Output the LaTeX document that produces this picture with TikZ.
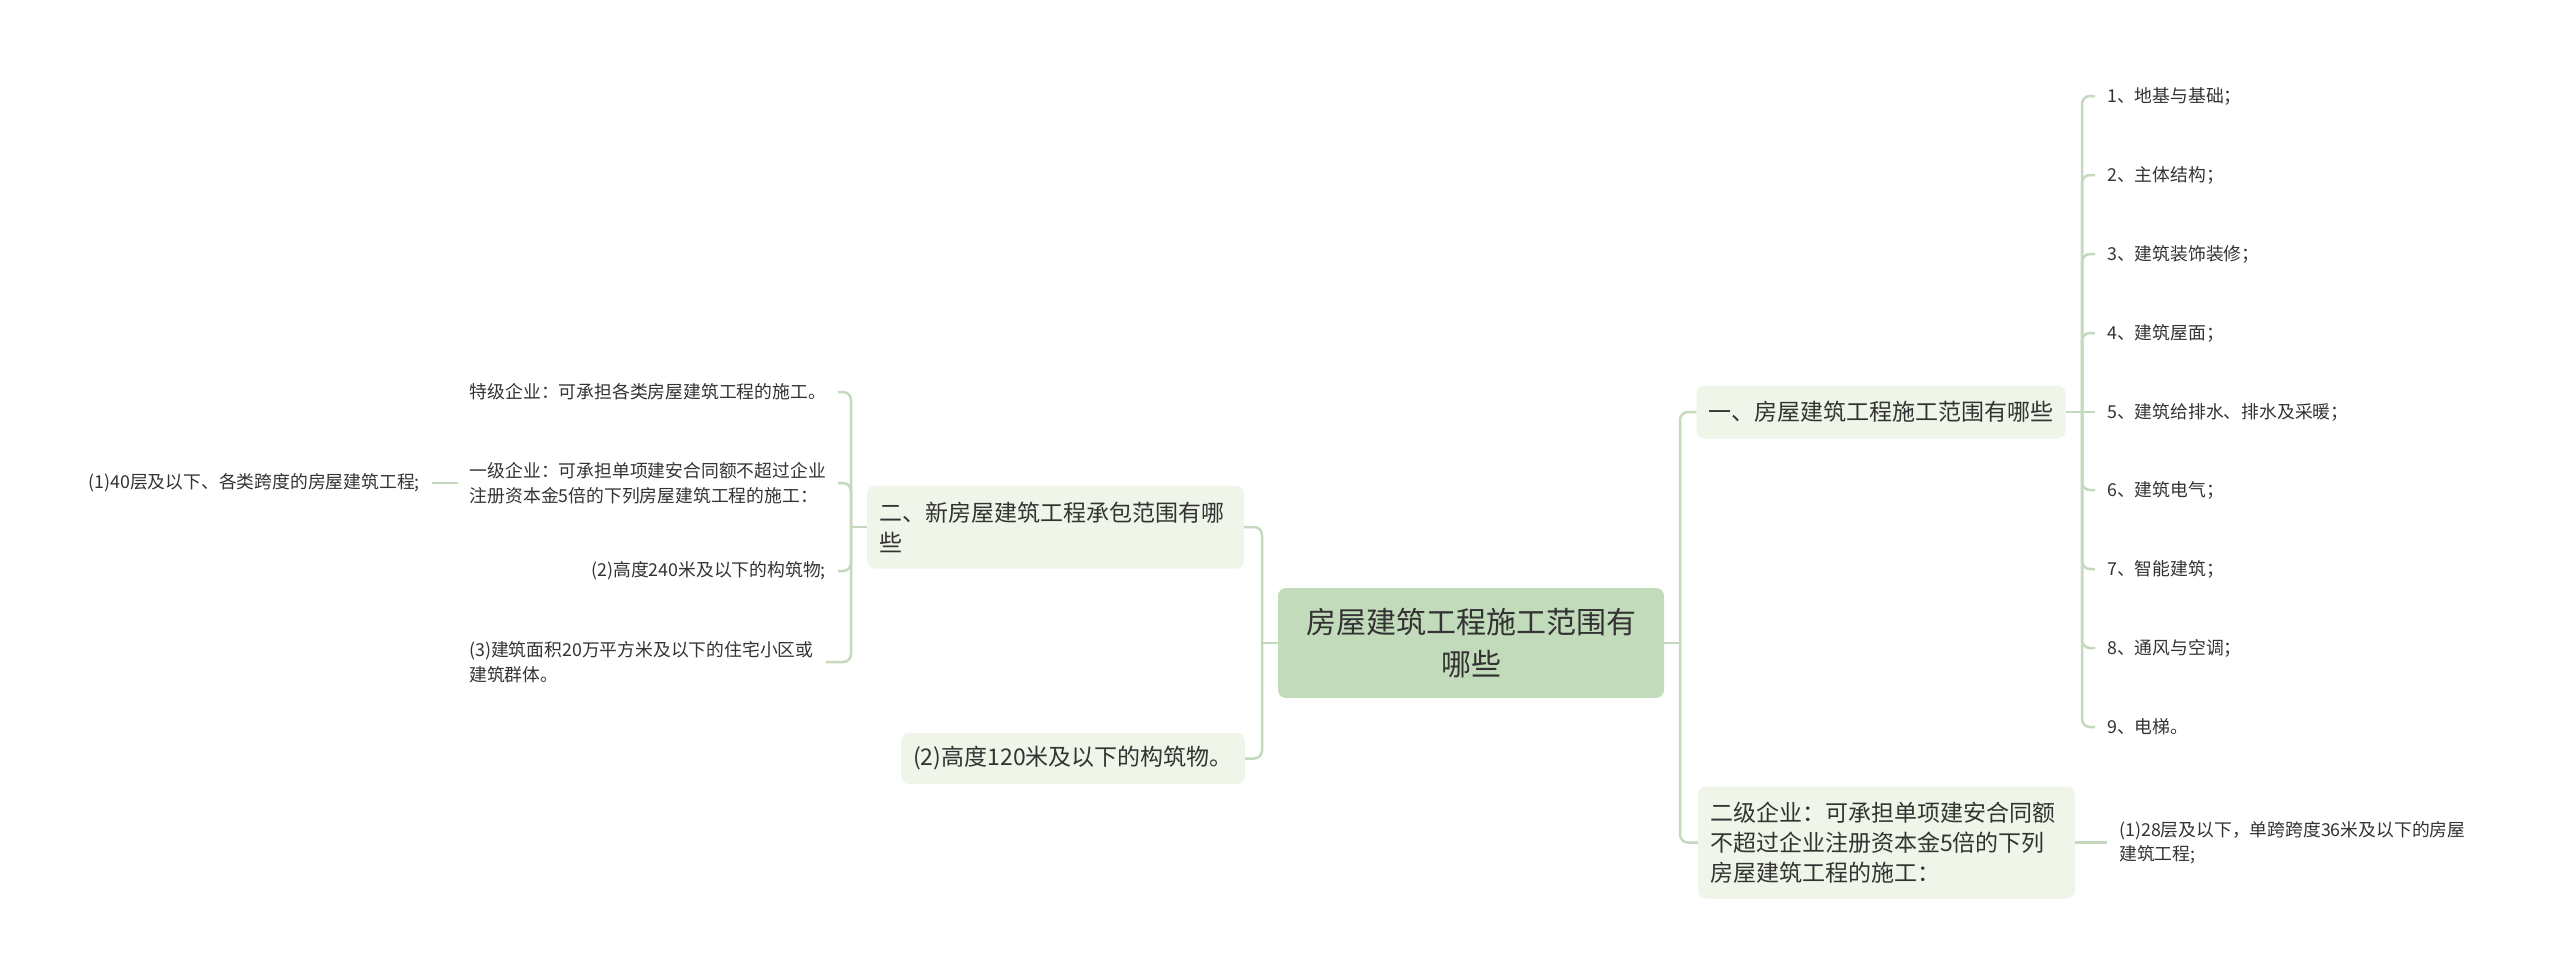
\documentclass[tikz,border=0pt]{standalone}
\usepackage{fontspec}
\setmainfont{Noto Sans CJK SC}
\definecolor{rootfill}{HTML}{C2DBBA}
\definecolor{topicfill}{HTML}{EFF5E8}
\definecolor{linkline}{HTML}{C4D9BD}
\definecolor{inktext}{HTML}{333333}

\begin{document}
\begin{tikzpicture}[x=1pt, y=-1pt,
	rootbox/.style={fill=rootfill, rounded corners=8pt, text=inktext, font=\fontsize{30}{42}\selectfont, align=center, minimum width=386pt, minimum height=110pt, inner sep=0pt},
	topicbox/.style={fill=topicfill, rounded corners=8pt, text=inktext, font=\fontsize{23}{30}\selectfont, inner xsep=12pt, inner ysep=0pt},
	leaftext/.style={text=inktext, font=\fontsize{17.8}{24.5}\selectfont, align=left, inner xsep=12pt, inner ysep=2pt},
	link/.style={draw=linkline, line width=2.5pt, rounded corners=8pt}]
			%%%%% START %%%%%
			
			\fill[white] (0, 0) rectangle (2560, 977);
			\useasboundingbox (0, 0) rectangle (2560, 977);
			
			\node[rootbox] (root) at (1471, 643) {房屋建筑工程施工范围有\\哪些};
			
			\node[topicbox, minimum width=366pt, minimum height=53pt] (scope) at (1881, 412) {一、房屋建筑工程施工范围有哪些};
			\node[topicbox, text width=353pt, align=left, minimum height=112pt] (second) at (1886.5, 842.5) {二级企业：可承担单项建安合同额\\不超过企业注册资本金5倍的下列\\房屋建筑工程的施工：};
			\node[topicbox, text width=353pt, align=left, minimum height=83pt] (contract) at (1055.5, 527) {二、新房屋建筑工程承包范围有哪\\些};
			\node[topicbox, minimum width=342pt, minimum height=51pt] (height120) at (1073, 758.5) {(2)高度120米及以下的构筑物。};
			
			\node[leaftext, anchor=west] (item1) at (2095, 96) {1、地基与基础；};
			\node[leaftext, anchor=west] (item2) at (2095, 175) {2、主体结构；};
			\node[leaftext, anchor=west] (item3) at (2095, 254) {3、建筑装饰装修；};
			\node[leaftext, anchor=west] (item4) at (2095, 333) {4、建筑屋面；};
			\node[leaftext, anchor=west] (item5) at (2095, 412) {5、建筑给排水、排水及采暖；};
			\node[leaftext, anchor=west] (item6) at (2095, 490) {6、建筑电气；};
			\node[leaftext, anchor=west] (item7) at (2095, 569) {7、智能建筑；};
			\node[leaftext, anchor=west] (item8) at (2095, 648) {8、通风与空调；};
			\node[leaftext, anchor=west] (item9) at (2095, 727) {9、电梯。};
			
			\node[leaftext, anchor=west] (floor28) at (2107, 842.5) {(1)28层及以下，单跨跨度36米及以下的房屋\\建筑工程;};
			
			\node[leaftext, anchor=east] (special) at (838, 392) {特级企业：可承担各类房屋建筑工程的施工。};
			\node[leaftext, anchor=east] (first) at (838, 483) {一级企业：可承担单项建安合同额不超过企业\\注册资本金5倍的下列房屋建筑工程的施工：};
			\node[leaftext, anchor=east] (height240) at (838, 571) {(2)高度240米及以下的构筑物;};
			\node[leaftext, anchor=west] (area) at (457, 662) {(3)建筑面积20万平方米及以下的住宅小区或\\建筑群体。};
			\node[leaftext, anchor=east] (floor40) at (432, 483) {(1)40层及以下、各类跨度的房屋建筑工程;};
			
			% root to both sides
			\coordinate (rootR) at (1680, 643);
			\coordinate (rootL) at (1262, 643);
			\draw[link] (root.east) -- (rootR);
			\draw[link] (scope.west) -| (rootR) |- (second.west);
			\draw[link] (root.west) -- (rootL);
			\draw[link] (contract.east) -| (rootL) |- (height120.east);
			
			% scope list
			\coordinate (scopeR) at (2082, 412);
			\draw[link] (scope.east) -- (scopeR);
			\draw[link] (item1.west) -| (scopeR) |- (item9.west);
			\draw[link] (scopeR) |- (item2.west);
			\draw[link] (scopeR) |- (item3.west);
			\draw[link] (scopeR) |- (item4.west);
			\draw[link] (scopeR) -- (item5.west);
			\draw[link] (scopeR) |- (item6.west);
			\draw[link] (scopeR) |- (item7.west);
			\draw[link] (scopeR) |- (item8.west);
			
			\draw[link] (second.east) -- (floor28.west);
			
			% contract list
			\coordinate (contractL) at (851, 527);
			\draw[link] (contract.west) -- (contractL);
			\draw[link] (special.east) -| (contractL) |- (area.east);
			\draw[link] (contractL) |- (first.east);
			\draw[link] (contractL) |- (height240.east);
			\draw[link] (first.west) -- (floor40.east);
			
			%%%%% END %%%%%
		\end{tikzpicture}
\end{document}
